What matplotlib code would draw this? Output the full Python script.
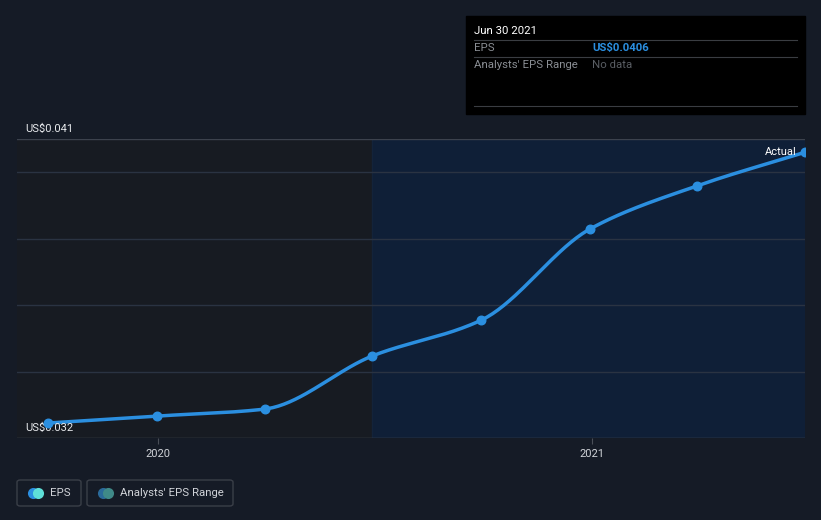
from matplotlib import pyplot as plt
from matplotlib.patches import FancyBboxPatch, Rectangle
import matplotlib.dates as mdates
import numpy as np
import pandas as pd

# quarterly EPS (US$)
dates = pd.to_datetime(["2019-09-30", "2019-12-31", "2020-03-31", "2020-06-30",
                        "2020-09-30", "2020-12-31", "2021-03-31", "2021-06-30"])
eps = [0.03245, 0.03266, 0.03287, 0.03447, 0.03555, 0.03830, 0.03959, 0.0406]
y_labels = ["US$0.032", "US$0.041"]
x_ticks = pd.to_datetime(["2020-01-01", "2021-01-01"])
x_tick_labels = ["2020", "2021"]

bg = "#151b26"
W, H = 821, 520

def monotone(x, y, n=40):
    # monotone cubic (Fritsch-Carlson) just for drawing the smooth line
    x = np.asarray(x, float); y = np.asarray(y, float)
    h = np.diff(x); d = np.diff(y) / h
    m = np.zeros_like(y)
    m[0], m[-1] = d[0], d[-1]
    for i in range(1, len(y) - 1):
        if d[i-1] * d[i] <= 0:
            m[i] = 0
        else:
            w1 = 2*h[i] + h[i-1]; w2 = h[i] + 2*h[i-1]
            m[i] = (w1 + w2) / (w1/d[i-1] + w2/d[i])
    xs, ys = [], []
    for i in range(len(h)):
        t = np.linspace(0, 1, n)
        h00 = 2*t**3 - 3*t**2 + 1; h10 = t**3 - 2*t**2 + t
        h01 = -2*t**3 + 3*t**2; h11 = t**3 - t**2
        xs.append(x[i] + t*h[i])
        ys.append(h00*y[i] + h10*h[i]*m[i] + h01*y[i+1] + h11*h[i]*m[i+1])
    return np.concatenate(xs), np.concatenate(ys)

plt.rcParams['font.family'] = ['Roboto', 'DejaVu Sans']
fig = plt.figure(figsize=(W/100, H/100), dpi=100, facecolor=bg)
ax = fig.add_axes([17/W, (H-438)/H, (805-17)/W, (438-139)/H])
ax.set_facecolor(bg)

xnum = mdates.date2num(dates)
x0 = xnum[1] - (157-17)/434*365.25
ax.set_xlim(x0, xnum[-1])
ax.set_ylim(0.032, 0.041)

# past / forecast shading
ax.axvspan(x0, xnum[3], color="#171b22", zorder=0, lw=0)
ax.axvspan(xnum[3], xnum[-1], color="#0f1f37", zorder=0, lw=0)
ax.axvline(xnum[3], color="#13233a", lw=1, zorder=0.5)

for g in [0.034, 0.036, 0.038, 0.040]:
    ax.axhline(g, color="#2a3342", lw=1, zorder=1)
ax.axhline(0.041, color="#3c424d", lw=1, zorder=1)
ax.axhline(0.032, color="#4a4f58", lw=1, zorder=1)

sx, sy = monotone(xnum, eps)
ax.plot(sx, sy, color="#2b8fe0", lw=2.5, zorder=3, solid_capstyle="round")
ax.scatter(xnum, eps, s=38, color="#2b8fe0", zorder=4)
ax.text(xnum[-1] - 7, eps[-1] + 0.00002, "Actual", color="white", fontsize=8,
        ha="right", va="center", zorder=5)

for s in ax.spines.values():
    s.set_visible(False)
ax.set_yticks([])
ax.set_xticks(mdates.date2num(x_ticks))
ax.set_xticklabels(x_tick_labels, color="#d0d3d8", fontsize=8)
ax.tick_params(axis="x", length=4, color="#4a4f58", pad=4)

ax.text(8/788, 0.04115, y_labels[1], transform=ax.get_yaxis_transform(),
        color="#e8eaed", fontsize=8, va="bottom", ha="left")
ax.text(8/788, 0.03216, y_labels[0], transform=ax.get_yaxis_transform(),
        color="#e8eaed", fontsize=8, va="bottom", ha="left")

# tooltip box
def fx(p): return p / W
def fy(p): return 1 - p / H
fig.patches.append(Rectangle((fx(466), fy(114)), fx(805-466), (114-16)/H,
                             transform=fig.transFigure, color="black", zorder=0))
for yy in [40, 57, 106]:
    fig.add_artist(plt.Line2D([fx(474), fx(797)], [fy(yy), fy(yy)],
                              color="#3a3d42", lw=0.8))
fs = 8.2
fig.text(fx(474), fy(31), "Jun 30 2021", color="white", fontsize=fs, va="center")
fig.text(fx(474), fy(48), "EPS", color="#8a8e94", fontsize=fs, va="center")
fig.text(fx(592), fy(48), "US$0.0406", color="#2b8fe0", fontsize=fs,
         va="center", fontweight="bold")
fig.text(fx(474), fy(65), "Analysts' EPS Range", color="#8a8e94", fontsize=fs, va="center")
fig.text(fx(592), fy(65), "No data", color="#5a5e64", fontsize=fs, va="center")

# legend
for (l, r, lab, c1, c2, tx) in [(17, 81, "EPS", "#2b8fe0", "#5ee0d8", 50),
                                (87, 233, "Analysts' EPS Range", "#2a6a9a", "#3f8a88", 120)]:
    fig.patches.append(FancyBboxPatch((fx(l), fy(506)), fx(r-l), (506-480)/H,
                                      boxstyle="round,pad=0,rounding_size=0.004",
                                      transform=fig.transFigure, fc="none",
                                      ec="#3a3f48", lw=1))
    fig.add_artist(plt.Line2D([fx(tx-17)], [fy(493)], marker="o", ms=8,
                              color=c1, mec="none"))
    fig.add_artist(plt.Line2D([fx(tx-12)], [fy(493)], marker="o", ms=8,
                              color=c2, mec="none"))
    fig.text(fx(tx), fy(493), lab, color="#d0d3d8", fontsize=8.2, va="center")

fig.savefig("out.png", dpi=100, facecolor=bg)
